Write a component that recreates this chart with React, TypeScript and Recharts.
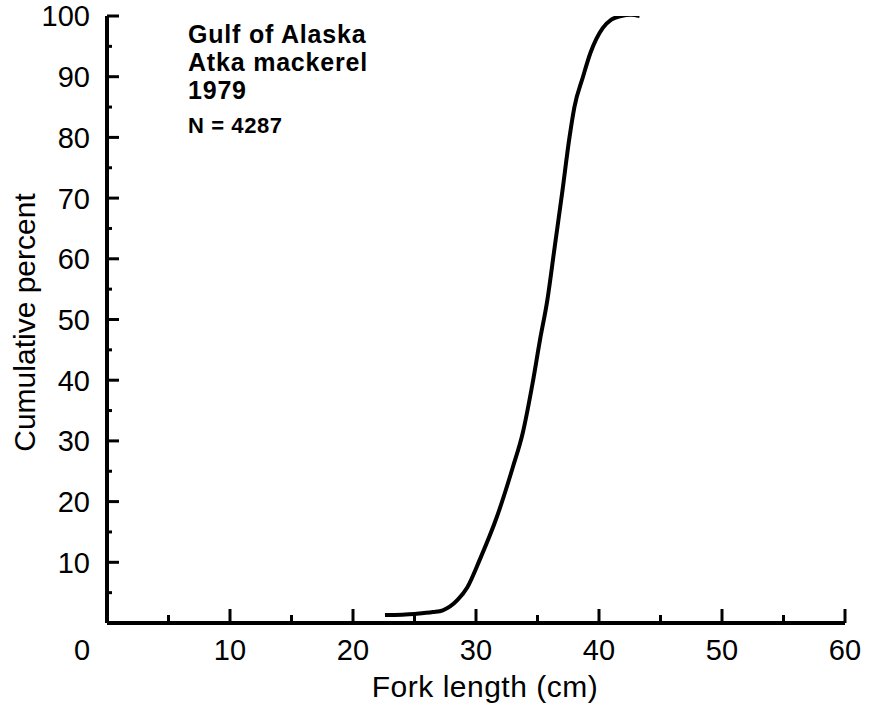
import React from 'react';
import { LineChart, Line, XAxis, YAxis, Label } from 'recharts';

// Fork length (cm) and cumulative percent
const forkLength = [22.6, 25.0, 26.5, 27.3, 28.5, 29.3, 30.3, 31.7, 33.0, 33.8, 34.6, 35.2, 35.8, 36.4, 37.0, 37.6, 38.0, 38.7, 39.3, 40.3, 41.0, 41.8, 42.6, 43.3];
const cumulativePercent = [1.3, 1.5, 1.8, 2.1, 3.8, 5.9, 10.4, 17.5, 25.7, 31.3, 39.5, 46.6, 53.2, 62.0, 70.8, 80.0, 85.0, 90.0, 93.9, 98.0, 99.4, 100.0, 100.2, 100.0];

const xTicks = [0, 5, 10, 15, 20, 25, 30, 35, 40, 45, 50, 55, 60];
const yTicks = [0, 5, 10, 15, 20, 25, 30, 35, 40, 45, 50, 55, 60, 65, 70, 75, 80, 85, 90, 95, 100];

const titleLines = ['Gulf of Alaska', 'Atka mackerel', '1979'];
const sampleLabel = 'N = 4287';
const xTitle = 'Fork length (cm)';
const yTitle = 'Cumulative percent';

const data = forkLength.map((x, i) => ({ x, y: cumulativePercent[i] }));

const FONT = '"Liberation Sans", Arial, Helvetica, sans-serif';

const XTick = (props: any) => {
  const { x, y, payload } = props;
  const v = payload.value as number;
  const major = v % 10 === 0;
  return (
    <g>
      {v !== 0 && (
        <line x1={x} x2={x} y1={y} y2={y - (major ? 14 : 8)} stroke="#000" strokeWidth={3} />
      )}
      {major && (
        <text x={x + (v === 0 ? -25 : 0)} y={y + 37} textAnchor="middle" fontSize={29} fontFamily={FONT} fill="#000">
          {v}
        </text>
      )}
    </g>
  );
};

const YTick = (props: any) => {
  const { x, y, payload } = props;
  const v = payload.value as number;
  const major = v % 10 === 0;
  if (v === 0) return <g />;
  return (
    <g>
      <line x1={x} x2={x + (major ? 12 : 5)} y1={y} y2={y} stroke="#000" strokeWidth={3} />
      {major && (
        <text x={x - 17} y={y} dy="0.36em" textAnchor="end" fontSize={29} fontFamily={FONT} fill="#000">
          {v}
        </text>
      )}
    </g>
  );
};

const XTitle = (props: any) => {
  const vb = props.viewBox || { x: 107, y: 623, width: 738 };
  return (
    <text x={vb.x + vb.width / 2 + 9} y={vb.y + 74} textAnchor="middle" fontSize={30} fontFamily={FONT} fill="#000" letterSpacing={0.5}>
      {xTitle}
    </text>
  );
};

const YTitle = (props: any) => {
  const vb = props.viewBox || { x: 47, y: 16, width: 60, height: 607 };
  const cx = 35;
  const cy = vb.y + vb.height / 2 + 3;
  return (
    <text x={cx} y={cy} transform={`rotate(-90, ${cx}, ${cy})`} textAnchor="middle" fontSize={30} fontFamily={FONT} fill="#000">
      {yTitle}
    </text>
  );
};

export default function App() {
  return (
    <div style={{ position: 'absolute', left: 0, top: 0, width: 869, height: 708, background: '#fff' }}>
      <LineChart width={869} height={708} data={data} margin={{ top: 16, right: 24, left: 47, bottom: 45 }}>
        <XAxis
          dataKey="x"
          type="number"
          domain={[0, 60]}
          ticks={xTicks}
          interval={0}
          height={40}
          tickSize={0}
          tickMargin={0}
          tickLine={false}
          tick={<XTick />}
          axisLine={{ stroke: '#000', strokeWidth: 4 }}
        >
          <Label content={<XTitle />} />
        </XAxis>
        <YAxis
          type="number"
          domain={[0, 100]}
          allowDataOverflow
          ticks={yTicks}
          interval={0}
          width={60}
          tickSize={0}
          tickMargin={0}
          tickLine={false}
          tick={<YTick />}
          axisLine={{ stroke: '#000', strokeWidth: 4 }}
        >
          <Label content={<YTitle />} />
        </YAxis>
        <Line
          dataKey="y"
          type="monotone"
          stroke="#000"
          strokeWidth={4}
          dot={false}
          isAnimationActive={false}
        />
      </LineChart>
      <svg width={869} height={708} style={{ position: 'absolute', left: 0, top: 0, pointerEvents: 'none', overflow: 'visible' }}>
        {titleLines.map((t, i) => (
          <text key={t} x={188} y={43 + i * 28} fontSize={25} fontWeight="bold" fontFamily={FONT} fill="#000" letterSpacing={0.8}>
            {t}
          </text>
        ))}
        <text x={188} y={133} fontSize={22} fontWeight="bold" fontFamily={FONT} fill="#000" letterSpacing={0.6}>
          {sampleLabel}
        </text>
      </svg>
    </div>
  );
}
